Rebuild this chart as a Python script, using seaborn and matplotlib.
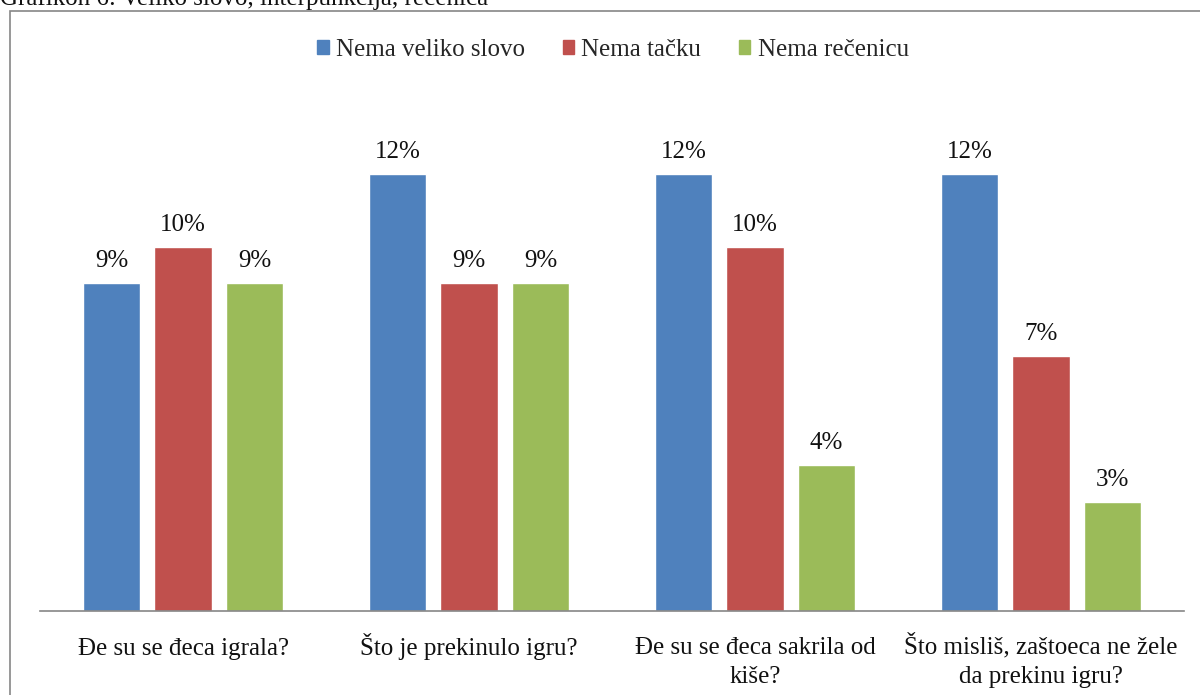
import matplotlib
matplotlib.use("Agg")
import matplotlib.pyplot as plt
import matplotlib.patches as mpatches
import seaborn as sns
import pandas as pd

questions = ["Đe su se đeca igrala?", "Što je prekinulo igru?",
             "Đe su se đeca sakrila od\nkiše?", "Što misliš, zaštoeca ne žele\nda prekinu igru?"]
series = ["Nema veliko slovo", "Nema tačku", "Nema rečenicu"]
veliko_slovo = [9, 12, 12, 12]
tacka = [10, 9, 10, 7]
recenica = [9, 9, 4, 3]
colors = ["#4F81BD", "#C0504D", "#9BBB59"]

df = pd.DataFrame({
    "pitanje": questions * 3,
    "greska": [series[0]] * 4 + [series[1]] * 4 + [series[2]] * 4,
    "procenat": veliko_slovo + tacka + recenica,
})

sns.set_theme(style="white")
plt.rcParams["font.family"] = ["Liberation Serif", "DejaVu Serif"]

fig = plt.figure(figsize=(12, 6.95), dpi=100)
ax = fig.add_axes([40 / 1200, 84 / 695, 1144 / 1200, 509.6 / 695])

sns.barplot(data=df, x="pitanje", y="procenat", hue="greska", hue_order=series,
            palette=colors, width=0.75, gap=0.2, saturation=1, ax=ax, legend=False)

for cont in ax.containers:
    ax.bar_label(cont, labels=[f"{v:.0f}%" for v in cont.datavalues],
                 padding=8, fontsize=18, color="#111111")

ax.set_xlim(-0.5, 3.5)
ax.set_ylim(0, 14)
ax.set_xlabel("")
ax.set_ylabel("")
ax.set_yticks([])
ax.set_xticks(range(len(questions)))
ax.set_xticklabels([])
ax.tick_params(axis="x", length=0)
# category labels, first line baselines aligned like the original
for i, q in enumerate(questions):
    n = q.count("\n")
    ax.annotate(q, xy=(i, 0), xycoords=("data", "axes fraction"),
                xytext=(0, -(31.5 + n * 20.5)), textcoords="offset points",
                ha="center", va="baseline", fontsize=18, color="#111111",
                linespacing=1.45, annotation_clip=False)
for s in ["top", "right", "left"]:
    ax.spines[s].set_visible(False)
ax.spines["bottom"].set_color("#868686")
ax.spines["bottom"].set_linewidth(1.2)

handles = [mpatches.Patch(color=c, label=l) for c, l in zip(colors, series)]
fig.legend(handles=handles, loc="center", bbox_to_anchor=(613 / 1200, 1 - 50 / 695),
           ncol=3, frameon=False, fontsize=18, handlelength=0.45, handleheight=0.45,
           handletextpad=0.3, columnspacing=1.5)

# chart border
fig.patches.append(mpatches.Rectangle((10 / 1200, -0.05), 1.0, 1 - 11 / 695 + 0.05,
                                      transform=fig.transFigure, fill=False,
                                      edgecolor="#868686", linewidth=1.2))
fig.text(0.0, 1 - 5 / 695, "Grafikon 6: Veliko slovo, interpunkcija, rečenica",
         fontsize=18, va="baseline", ha="left", color="#111111")

fig.savefig("out.png", dpi=100)
